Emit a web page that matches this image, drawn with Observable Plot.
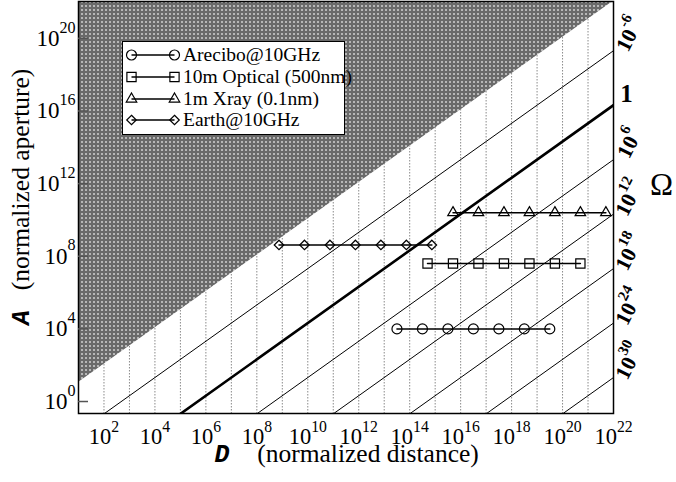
<!DOCTYPE html>
<html><head><meta charset="utf-8">
<script src="https://cdn.jsdelivr.net/npm/d3@7"></script>
<script src="https://cdn.jsdelivr.net/npm/@observablehq/plot@0.6"></script>
<style>
body{margin:0;background:#fff;}
#wrap{position:relative;width:676px;height:482px;}
#legend{position:absolute;left:122px;top:41px;width:221px;height:92px;border:1.5px solid #000;background:#fff;font-family:"Liberation Serif",serif;font-size:19.5px;color:#000;}
.row{position:absolute;left:0;height:20px;display:flex;align-items:center;white-space:nowrap;}
.row svg{display:block;}
</style></head><body><div id="wrap"></div>
<script>
// ---- data (log10 values) ----
const seriesNames = ["Arecibo@10GHz", "10m Optical (500nm)", "1m Xray (0.1nm)", "Earth@10GHz"];
const seriesSymbols = ["circle", "square", "triangle", "diamond2"];
const seriesR = [5, 5.2, 3.9, 4.3];
const areciboLogD = [13.5, 14.5, 15.5, 16.5, 17.5, 18.5, 19.5];
const areciboLogA = 4.0;
const opticalLogD = [14.7, 15.7, 16.7, 17.7, 18.7, 19.7, 20.7];
const opticalLogA = 7.6;
const xrayLogD = [15.7, 16.7, 17.7, 18.7, 19.7, 20.7, 21.7];
const xrayLogA = 10.4;
const earthLogD = [8.87, 9.87, 10.87, 11.87, 12.87, 13.87, 14.87];
const earthLogA = 8.62;

// Omega iso-lines: log10 A = log10 D - offset
const omegaExps = [-6, 0, 6, 12, 18, 24, 30];
const omegaOffsets = [2.68, 5.68, 8.68, 11.68, 14.68, 17.68, 20.68];
const shadeOffset = -0.05;

const xDomainLog = [1, 22];
const yDomainLog = [-0.66, 22.03];
const xTickExps = [2, 4, 6, 8, 10, 12, 14, 16, 18, 20, 22];
const yTickExps = [0, 4, 8, 12, 16, 20];
const gridExps = [2,3,4,5,6,7,8,9,10,11,12,13,14,15,16,17,18,19,20,21];

// ---- build tables ----
const pts = (logD, logA, s) => logD.map(v => ({D: 10 ** v, A: 10 ** logA, s}));
const series = [
  pts(areciboLogD, areciboLogA, 0),
  pts(opticalLogD, opticalLogA, 1),
  pts(xrayLogD, xrayLogA, 2),
  pts(earthLogD, earthLogA, 3)
];
const ends = [10 ** xDomainLog[0], 10 ** xDomainLog[1]];
const omegaLines = omegaExps.flatMap((e, i) => ends.map(D => ({D, A: D / 10 ** omegaOffsets[i], e})));
const omegaLabels = omegaExps.map((e, i) => ({D: ends[1], A: ends[1] / 10 ** omegaOffsets[i], e, label: e === 0 ? "1" : "10^" + e}));
const yTop = 10 ** yDomainLog[1];
const shade = ends.map(D => ({D, A: D / 10 ** shadeOffset, top: yTop}));
const fmt = d => "10^" + Math.round(Math.log10(d));

const serif = "Liberation Serif";
const marks = [
  Plot.ruleX(gridExps.map(e => 10 ** e), {stroke: "#8a8a8a", strokeWidth: 1, strokeDasharray: "1.5,1.5"}),
  Plot.areaY(shade, {x: "D", y1: "A", y2: "top", fill: "url(#halftone)", clip: true}),
  Plot.line(omegaLines.filter(d => d.e !== 0), {x: "D", y: "A", z: "e", stroke: "#000", strokeWidth: 1, clip: true}),
  Plot.line(omegaLines.filter(d => d.e === 0), {x: "D", y: "A", stroke: "#000", strokeWidth: 2.6, clip: true}),
];
series.forEach((data, i) => {
  marks.push(Plot.line(data, {x: "D", y: "A", stroke: "#000", strokeWidth: 1.5}));
  marks.push(Plot.dot(data, {x: "D", y: "A", symbol: () => seriesSymbols[i], r: seriesR[i], fill: "none", stroke: "#000", strokeWidth: 1.2}));
});
marks.push(
  Plot.frame({stroke: "#000", strokeWidth: 1.5}),
  Plot.axisY(yTickExps.map(e => 10 ** e), {tickSize: 10, dx: 10, fill: "none", stroke: "#555", strokeWidth: 1.5, label: null}),
  Plot.axisY(yTickExps.map(e => 10 ** e), {tickSize: 0, tickPadding: 3, stroke: "none", fontSize: 23, fontFamily: serif, fill: "#000", tickFormat: fmt, label: null}),
  Plot.axisX(xTickExps.map(e => 10 ** e), {tickSize: 0, tickPadding: 15, fontSize: 22.5, fontFamily: serif, fill: "#000", tickFormat: fmt, label: null}),
  Plot.text(omegaLabels.filter(d => d.e !== 0), {x: "D", y: "A", text: "label", dx: 16, dy: -16, rotate: -63, fontSize: 21.5, fontWeight: "bold", fontFamily: serif, fill: "#000", clip: false}),
  Plot.text(omegaLabels.filter(d => d.e === 0), {x: "D", y: "A", text: "label", dx: 13, dy: -11, fontSize: 25, fontWeight: "bold", fontFamily: serif, fill: "#000", clip: false}),
  Plot.text(["Ω"], {frameAnchor: "right", textAnchor: "middle", dx: 48, dy: -22, fontSize: 31, fontFamily: serif, fill: "#000"}),
  Plot.text(["(normalized distance)"], {frameAnchor: "bottom", textAnchor: "middle", dx: 22, dy: 48, fontSize: 25.5, fontFamily: serif, fill: "#000"}),
  Plot.text(["D"], {frameAnchor: "bottom", textAnchor: "middle", dx: -124, dy: 48, fontSize: 25, fontFamily: "Liberation Mono", fontWeight: "bold", fontStyle: "italic", fill: "#000"}),
  Plot.text(["(normalized aperture)"], {frameAnchor: "left", textAnchor: "middle", dx: -58, dy: -28, rotate: -90, fontSize: 25.5, fontFamily: serif, fill: "#000"}),
  Plot.text(["A"], {frameAnchor: "left", textAnchor: "middle", dx: -58, dy: 110, rotate: -90, fontSize: 25, fontFamily: "Liberation Mono", fontWeight: "bold", fontStyle: "italic", fill: "#000"})
);

const plot = Plot.plot({
  width: 676, height: 482,
  marginLeft: 78, marginRight: 63, marginTop: 1, marginBottom: 69,
  x: {type: "log", domain: xDomainLog.map(e => 10 ** e)},
  y: {type: "log", domain: yDomainLog.map(e => 10 ** e)},
  style: {fontFamily: serif, background: "#fff", overflow: "visible"},
  marks
});

const svg = d3.select(plot);
svg.insert("defs", ":first-child").html(
  '<pattern id="halftone" width="4" height="4" patternUnits="userSpaceOnUse">' +
  '<rect width="4" height="4" fill="#6a6a6a"/>' +
  '<rect x="1" y="1" width="2" height="2" fill="#a8a8a8"/>' +
  '<rect x="1.5" y="1.5" width="1" height="1" fill="#e6e6e6"/></pattern>');
svg.selectAll("text").each(function () {
  const m = /^(.*)\^(.+)$/.exec(this.textContent);
  if (!m) return;
  const el = d3.select(this);
  el.text(m[1]);
  el.append("tspan").attr("dy", "-0.82em").attr("font-size", "0.7em").text(m[2]);
});

const wrap = document.getElementById("wrap");
wrap.appendChild(plot);

// legend (inside the frame, top-left)
const legend = document.createElement("div");
legend.id = "legend";
const rowCenters = [12.5, 34.5, 56.5, 77.5];
seriesNames.forEach((name, i) => {
  const row = document.createElement("div");
  row.className = "row";
  row.style.top = (rowCenters[i] - 10) + "px";
  const s = d3.create("svg").attr("width", 60).attr("height", 20);
  s.append("line").attr("x1", 8.5).attr("x2", 51.5).attr("y1", 10).attr("y2", 10).attr("stroke", "#000").attr("stroke-width", 1.5);
  const d3sym = {circle: d3.symbolCircle, square: d3.symbolSquare, triangle: d3.symbolTriangle, diamond2: d3.symbolDiamond2}[seriesSymbols[i]];
  const path = d3.symbol(d3sym, Math.PI * seriesR[i] ** 2)();
  [8.5, 51.5].forEach(cx => s.append("path").attr("d", path).attr("transform", `translate(${cx},10)`).attr("fill", "none").attr("stroke", "#000").attr("stroke-width", 1.2));
  row.appendChild(s.node());
  const t = document.createElement("span");
  t.textContent = name;
  row.appendChild(t);
  legend.appendChild(row);
});
wrap.appendChild(legend);
</script></body></html>
